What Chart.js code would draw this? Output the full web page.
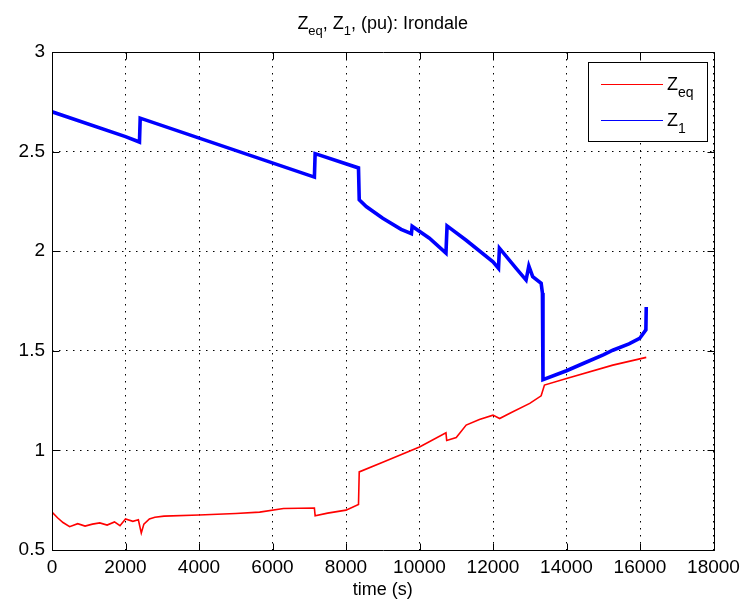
<!DOCTYPE html>
<html>
<head>
<meta charset="utf-8">
<script src="https://cdn.jsdelivr.net/npm/chart.js@4"></script>
<style>
  html, body { margin: 0; padding: 0; background: #fff; }
  #wrap { width: 742px; height: 600px; }
</style>
</head>
<body>
<div id="wrap"><canvas id="c" width="742" height="600"></canvas></div>
<script>
// ---- data ----
const z1Time = [0, 2000, 2380, 2400, 7140, 7160, 8340, 8360, 8550, 9000, 9500, 9780, 9800, 10270, 10720, 10750, 11270, 12000, 12150, 12175, 12630, 12900, 12975, 13080, 13310, 13345, 13360, 14000, 14500, 15000, 15260, 15700, 15990, 16160, 16170];
const z1Vals = [2.70, 2.575, 2.548, 2.668, 2.372, 2.49, 2.418, 2.258, 2.224, 2.165, 2.11, 2.088, 2.125, 2.065, 1.99, 2.127, 2.055, 1.947, 1.914, 2.015, 1.914, 1.855, 1.926, 1.872, 1.839, 1.79, 1.355, 1.40, 1.44, 1.48, 1.503, 1.535, 1.562, 1.605, 1.72];

const zeqTime = [0, 150, 300, 480, 700, 900, 1100, 1300, 1500, 1700, 1850, 2000, 2200, 2350, 2430, 2500, 2650, 2800, 3050, 4000, 5000, 5650, 6300, 7140, 7160, 7500, 8000, 8340, 8360, 9000, 10000, 10720, 10740, 11000, 11270, 11630, 12000, 12180, 12500, 13000, 13310, 13400, 14000, 15260, 16170];
const zeqVals = [0.69, 0.662, 0.638, 0.617, 0.632, 0.62, 0.63, 0.636, 0.625, 0.641, 0.622, 0.656, 0.644, 0.652, 0.585, 0.63, 0.656, 0.664, 0.67, 0.676, 0.683, 0.69, 0.708, 0.711, 0.672, 0.685, 0.70, 0.728, 0.892, 0.94, 1.017, 1.088, 1.05, 1.065, 1.127, 1.155, 1.177, 1.16, 1.19, 1.236, 1.274, 1.328, 1.361, 1.428, 1.467];

const xTickLabels = ['0', '2000', '4000', '6000', '8000', '10000', '12000', '14000', '16000', '18000'];
const yTickLabels = ['0.5', '1', '1.5', '2', '2.5', '3'];

const seriesNames = [['Z', 'eq'], ['Z', '1']];
const titleParts = [['Z', 'eq'], [', ', ''], ['Z', '1'], [', (pu): Irondale', '']];
const xAxisTitle = 'time (s)';

const FONT = '"Liberation Sans", Arial, sans-serif';

function toPts(t, v) { return t.map((x, i) => ({ x: x, y: v[i] })); }

const decor = {
  id: 'decor',
  afterDraw(chart) {
    const ctx = chart.ctx;
    const a = chart.chartArea;
    const xs = chart.scales.x, ys = chart.scales.y;
    ctx.save();
    ctx.strokeStyle = '#000';
    ctx.lineWidth = 1;
    const L = Math.round(a.left) + 0.5, R = Math.round(a.right) + 0.5;
    const T = Math.round(a.top) + 0.5, B = Math.round(a.bottom) + 0.5;
    ctx.beginPath();
    ctx.rect(L, T, R - L, B - T);
    ctx.stroke();
    const tl = 7;
    ctx.beginPath();
    xs.ticks.forEach(t => {
      const px = Math.round(xs.getPixelForValue(t.value)) + 0.5;
      ctx.moveTo(px, B); ctx.lineTo(px, B - tl);
      ctx.moveTo(px, T); ctx.lineTo(px, T + tl);
    });
    ys.ticks.forEach(t => {
      const py = Math.round(ys.getPixelForValue(t.value)) + 0.5;
      ctx.moveTo(L, py); ctx.lineTo(L + tl, py);
      ctx.moveTo(R, py); ctx.lineTo(R - tl, py);
    });
    ctx.stroke();

    // title with subscripts
    ctx.fillStyle = '#000';
    ctx.textBaseline = 'alphabetic';
    const mainF = '18px ' + FONT, subF = '13px ' + FONT;
    let w = 0;
    titleParts.forEach(p => {
      ctx.font = mainF; w += ctx.measureText(p[0]).width;
      ctx.font = subF; w += ctx.measureText(p[1]).width;
    });
    let x = (a.left + a.right) / 2 - w / 2;
    const by = 29;
    titleParts.forEach(p => {
      ctx.font = mainF; ctx.fillText(p[0], x, by); x += ctx.measureText(p[0]).width;
      ctx.font = subF; ctx.fillText(p[1], x, by + 6); x += ctx.measureText(p[1]).width;
    });

    // legend
    const lx = 588.5, ly = 62.5, lw = 119, lh = 79;
    ctx.fillStyle = '#fff';
    ctx.fillRect(lx, ly, lw, lh);
    ctx.strokeStyle = '#000';
    ctx.lineWidth = 1;
    ctx.strokeRect(lx, ly, lw, lh);
    const rows = [84, 120];
    chart.data.datasets.forEach((ds, i) => {
      const yy = rows[i];
      ctx.strokeStyle = ds.borderColor;
      ctx.lineWidth = 1;
      ctx.beginPath();
      ctx.moveTo(601, yy + 0.5); ctx.lineTo(663, yy + 0.5);
      ctx.stroke();
      ctx.fillStyle = '#000';
      ctx.font = '18px ' + FONT;
      ctx.fillText(seriesNames[i][0], 667, yy + 6);
      const zw = ctx.measureText(seriesNames[i][0]).width;
      ctx.font = '14px ' + FONT;
      ctx.fillText(seriesNames[i][1], 667 + zw, yy + 13);
    });
    ctx.restore();
  }
};

new Chart(document.getElementById('c'), {
  type: 'line',
  data: {
    datasets: [
      { label: 'Zeq', data: toPts(zeqTime, zeqVals), borderColor: '#ff0000', borderWidth: 1.6, pointRadius: 0, tension: 0, fill: false },
      { label: 'Z1', data: toPts(z1Time, z1Vals), borderColor: '#0000ff', borderWidth: 3.6, pointRadius: 0, tension: 0, fill: false }
    ]
  },
  options: {
    responsive: false,
    animation: false,
    devicePixelRatio: 1,
    layout: { padding: { top: 52, right: 28.5, left: 0, bottom: 0 } },
    plugins: { legend: { display: false }, title: { display: false }, tooltip: { enabled: false } },
    scales: {
      x: {
        type: 'linear', min: 0, max: 18000,
        afterFit: s => { s.height = 50; s.paddingLeft = 0; s.paddingRight = 0; },
        ticks: {
          stepSize: 2000, autoSkip: false, maxRotation: 0, padding: 6,
          color: '#000', font: { family: FONT, size: 19 },
          callback: (v, i) => xTickLabels[i]
        },
        grid: { color: '#000', lineWidth: 1, drawTicks: false },
        border: { display: false, dash: [1.5, 5.5] },
        title: { display: true, text: xAxisTitle, color: '#000', font: { family: FONT, size: 18, lineHeight: 1.0 }, padding: { top: 0, bottom: 1 } }
      },
      y: {
        type: 'linear', min: 0.5, max: 3,
        afterFit: s => { s.width = 52; s.paddingTop = 0; s.paddingBottom = 0; },
        ticks: {
          stepSize: 0.5, autoSkip: false, padding: 7,
          color: '#000', font: { family: FONT, size: 19 },
          callback: (v, i) => yTickLabels[i]
        },
        grid: { color: '#000', lineWidth: 1, drawTicks: false },
        border: { display: false, dash: [1.5, 5.5] }
      }
    }
  },
  plugins: [decor]
});
</script>
</body>
</html>
